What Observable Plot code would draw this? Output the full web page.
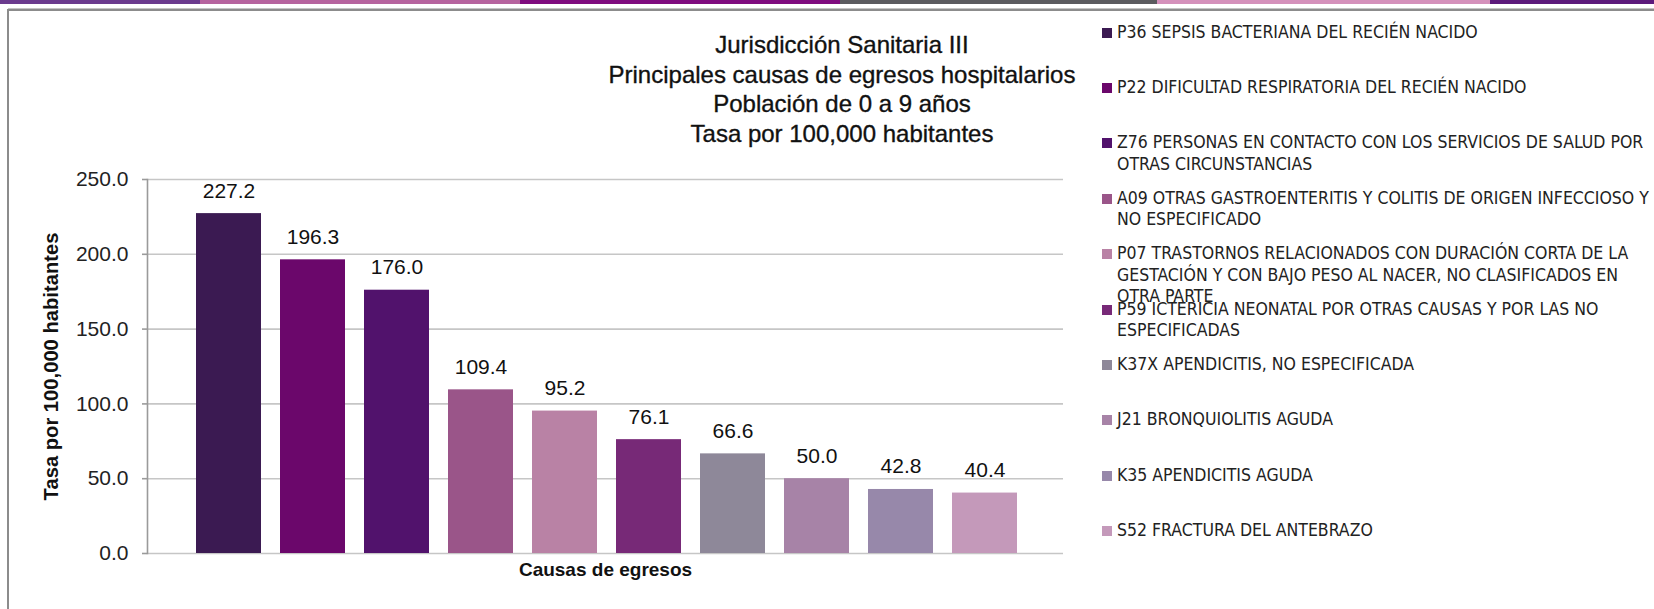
<!DOCTYPE html>
<html>
<head>
<meta charset="utf-8">
<script src="https://cdn.jsdelivr.net/npm/d3@7"></script>
<script src="https://cdn.jsdelivr.net/npm/@observablehq/plot@0.6"></script>
<style>
  html, body { margin: 0; padding: 0; background: #fff; }
  #page { position: relative; width: 1654px; height: 609px; overflow: hidden; background: #fff; font-family: "Liberation Sans", Arial, sans-serif; color: #111; }
  #chart { position: absolute; left: 0; top: 0; }
  .strip { position: absolute; top: 0; height: 4px; }
  #topline { position: absolute; left: 8px; right: 0; top: 8px; height: 1px; background: #c4c4c4; border-bottom: 2px solid #8c8c8c; }
  #leftline { position: absolute; left: 7px; top: 9px; bottom: 0; width: 2px; background: #8c8c8c; }
  #title { position: absolute; left: 560px; width: 564px; top: 30px; text-align: center; font-size: 24px; line-height: 29.6px; color: #111; -webkit-text-stroke: 0.35px #111; }
  #legend { position: absolute; left: 1102px; top: 0; width: 552px; }
  .entry { position: absolute; left: 0; height: 55px; }
  .sw { position: absolute; left: 0; width: 10px; height: 10px; }
  .lt { position: absolute; left: 15px; width: 537px; font-family: "Liberation Sans Narrow", "DejaVu Sans Condensed", "Liberation Sans", sans-serif; font-size: 17.5px; line-height: 21.5px; color: #222; white-space: pre-line; }
</style>
</head>
<body>
<div id="page">
  <div id="chart"></div>
  <div id="strips"></div>
  <div id="topline"></div>
  <div id="leftline"></div>
  <div id="title"></div>
  <div id="legend"></div>
</div>
<script>
// ---- Data ----
// legend labels, with the line breaks used in the reference legend
const legendLabels = [
  "P36 SEPSIS BACTERIANA DEL RECIÉN NACIDO",
  "P22 DIFICULTAD RESPIRATORIA DEL RECIÉN NACIDO",
  "Z76 PERSONAS EN CONTACTO CON LOS SERVICIOS DE SALUD POR\nOTRAS CIRCUNSTANCIAS",
  "A09 OTRAS GASTROENTERITIS Y COLITIS DE ORIGEN INFECCIOSO Y\nNO ESPECIFICADO",
  "P07 TRASTORNOS RELACIONADOS CON DURACIÓN CORTA DE LA\nGESTACIÓN Y CON BAJO PESO AL NACER, NO CLASIFICADOS EN\nOTRA PARTE",
  "P59 ICTERICIA NEONATAL POR OTRAS CAUSAS Y POR LAS NO\nESPECIFICADAS",
  "K37X APENDICITIS, NO ESPECIFICADA",
  "J21 BRONQUIOLITIS AGUDA",
  "K35 APENDICITIS AGUDA",
  "S52 FRACTURA DEL ANTEBRAZO"
];
const causes = legendLabels.map(s => s.replace(/\n/g, " "));
const rates = [227.2, 196.3, 176.0, 109.4, 95.2, 76.1, 66.6, 50.0, 42.8, 40.4];
const colors = ["#3b1a52", "#6b076b", "#51126c", "#9a5589", "#b982a5", "#772977", "#8e8899", "#a783a7", "#9788aa", "#c499ba"];
const yTicks = [0, 50, 100, 150, 200, 250];
const titleLines = [
  "Jurisdicción Sanitaria III",
  "Principales causas de egresos hospitalarios",
  "Población de 0 a 9 años",
  "Tasa por 100,000 habitantes"
];
const yLabel = "Tasa por 100,000 habitantes";
const xLabel = "Causas de egresos";
const stripColors = ["#6b3b8e", "#b6649f", "#7f0c7f", "#5b5b5f", "#d491bb", "#5c1a7b"];
const stripStops = [0, 200, 520, 840, 1157, 1490, 1654];

const data = causes.map((c, i) => ({cause: c, rate: rates[i]}));

// ---- Decorations ----
const strips = document.getElementById("strips");
stripColors.forEach((c, i) => {
  const d = document.createElement("div");
  d.className = "strip";
  d.style.left = stripStops[i] + "px";
  d.style.width = (stripStops[i + 1] - stripStops[i]) + "px";
  d.style.background = c;
  strips.appendChild(d);
});

document.getElementById("title").innerHTML = titleLines.map(t => `<div>${t}</div>`).join("");

// ---- Chart ----
const chart = Plot.plot({
  width: 1090,
  height: 609,
  marginLeft: 147,
  marginRight: 27,
  marginTop: 179,
  marginBottom: 56,
  style: {background: "transparent", fontFamily: "'Liberation Sans', Arial, sans-serif", color: "#111", overflow: "visible"},
  x: {domain: causes, range: [186.5, 1026.5], paddingInner: 0.226, paddingOuter: 0.113},
  y: {domain: [0, 250]},
  color: {domain: causes, range: colors},
  marks: [
    Plot.ruleY(yTicks, {stroke: "#c6c6c6", strokeWidth: 1.6}),
    Plot.barY(data, {x: "cause", y: "rate", fill: "cause"}),
    Plot.text(data, {x: "cause", y: "rate", text: d => d.rate.toFixed(1), dy: -16, lineAnchor: "bottom", fontSize: 21, fill: "#111"}),
    Plot.frame({anchor: "left", stroke: "#9a9a9a", strokeWidth: 1.6}),
    Plot.axisY({ticks: yTicks, tickFormat: d => d.toFixed(1), tickSize: 5, tickPadding: 14, fontSize: 21, stroke: "#9a9a9a", strokeWidth: 1.6, label: null, color: "#222"}),
    Plot.axisY({ticks: [], label: yLabel, labelAnchor: "center", labelOffset: 104, fontSize: 20.2, fontWeight: "bold", labelArrow: "none"}),
    Plot.axisX({ticks: [], label: xLabel, labelAnchor: "center", labelOffset: 22, fontSize: 19, fontWeight: "bold", labelArrow: "none"})
  ]
});
document.getElementById("chart").appendChild(chart);

// ---- Legend ----
const legend = document.getElementById("legend");
legendLabels.forEach((c, i) => {
  const e = document.createElement("div");
  e.className = "entry";
  e.style.top = (21.6 + i * 55.4) + "px";
  const sw = document.createElement("div");
  sw.className = "sw";
  sw.style.top = "6px";
  sw.style.background = colors[i];
  const t = document.createElement("div");
  t.className = "lt";
  t.style.top = "0px";
  t.textContent = c;
  e.appendChild(sw);
  e.appendChild(t);
  legend.appendChild(e);
});
</script>
</body>
</html>
